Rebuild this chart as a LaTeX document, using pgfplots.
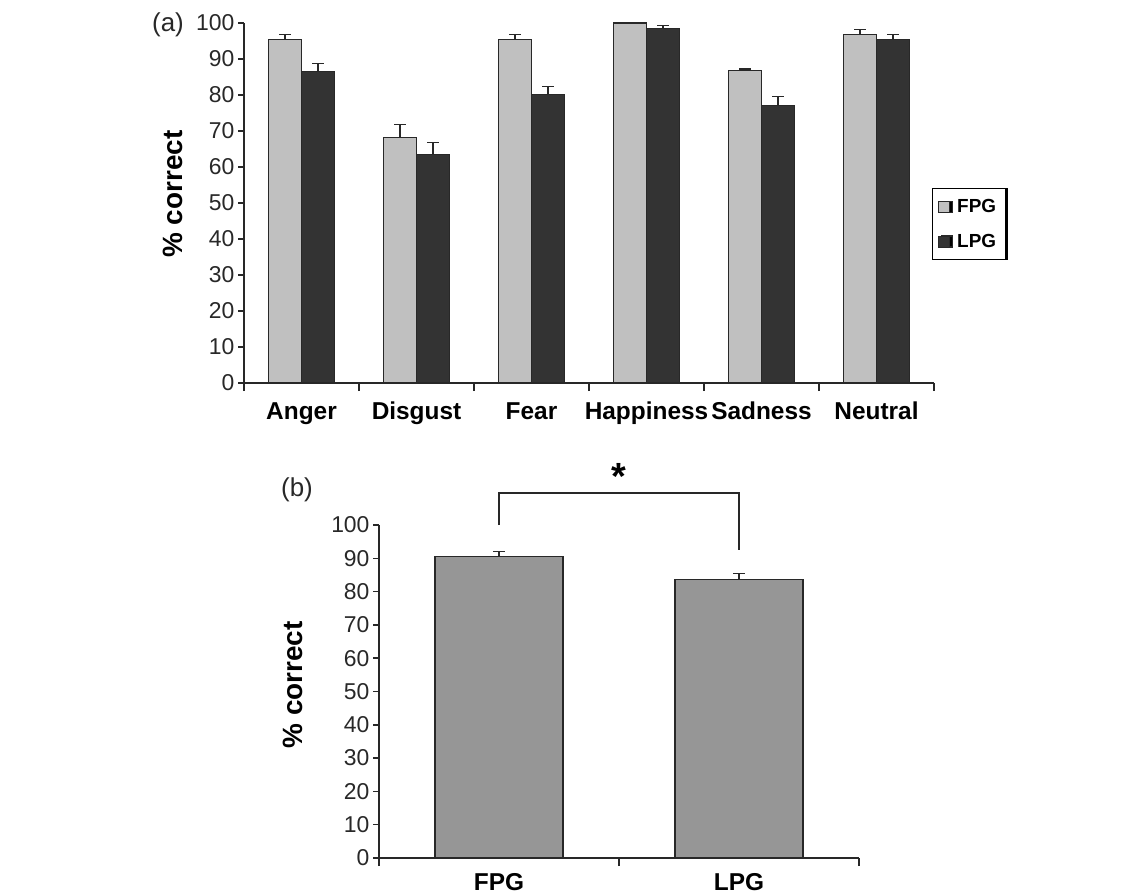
\documentclass[border=0pt]{standalone}
\usepackage{pgfplots}
\pgfplotsset{compat=1.18}
\usepackage{pgfplotstable}
\usepackage{fontspec}
\setmainfont{Liberation Sans}
\usetikzlibrary{shadows}

\definecolor{fpg}{RGB}{192,192,192}
\definecolor{lpg}{RGB}{51,51,51}
\definecolor{single}{RGB}{150,150,150}
\definecolor{ink}{RGB}{40,40,40}

% (a) recognition per emotion, mean and upper error
\pgfplotstableread{
x fpg fpgerr lpg lpgerr
0 95.5 1.2 86.5 2.3
1 68.2 3.5 63.5 3.2
2 95.5 1.2 80.2 2.1
3 100  0.0 98.5 0.9
4 86.7 0.5 77.1 2.5
5 96.9 1.3 95.5 1.2
}\emotions

% (b) overall
\pgfplotstableread{
x val err
0 90.5 1.5
1 83.6 1.8
}\overall

\pgfplotsset{
  panel/.style={
    scale only axis,
    axis x line*=bottom, axis y line*=left,
    ymin=0, ymax=100, ytick={0,10,...,100},
    tick align=outside,
    major tick length=6bp,
    minor tick length=8bp,
    axis line style={ink, line width=1.5bp},
    every tick/.style={ink, line width=1.5bp},
    major x tick style={draw=none},
    y tick label style={font=\fontsize{23}{23}\selectfont, color=ink},
    x tick label style={font=\fontsize{24.5}{24.5}\selectfont\bfseries, color=black,
      text height=18bp, text depth=6bp, yshift=-8.5bp},
    ylabel={\% correct},
    ylabel style={font=\fontsize{28}{28}\selectfont\bfseries},
    /pgf/number format/assume math mode=true,
    ybar=0pt,
    clip=false,
  },
  errs/.style={
    error bars/.cd,
      y dir=plus, y explicit,
      error bar style={ink, line width=1.2bp},
      error mark options={rotate=90, mark size=6bp, line width=1.2bp, ink},
    /pgfplots/.cd,
  },
  sq legend/.style={
    legend image code/.code={\draw[##1, line width=0.8bp] (0bp,-5.5bp) rectangle (11bp,5.5bp);},
  },
}

\begin{document}
\begin{tikzpicture}
\useasboundingbox (0,0) rectangle (1145bp,-895bp);

\begin{axis}[panel,
  at={(244bp,-383bp)}, anchor=south west,
  width=690bp, height=360bp,
  xmin=-0.5, xmax=5.5,
  xtick={0,...,5},
  xticklabels={Anger,Disgust,Fear,Happiness,Sadness,Neutral},
  minor xtick={-0.5,0.5,...,5.5},
  bar width=33bp,
  ylabel style={at={(axis description cs:-0.103,0.525)}, anchor=center},
  every axis plot post/.append style={sq legend},
  legend style={at={(axis description cs:0.997,0.542)}, anchor=north west,
    draw=black, line width=1bp, inner xsep=6bp, inner ysep=5bp, row sep=8bp,
    nodes={inner xsep=3bp, inner ysep=6bp},
    /tikz/every odd column/.append style={column sep=4bp},
    font=\fontsize{19}{19}\selectfont\bfseries,
    drop shadow={shadow xshift=2.5bp, shadow yshift=0bp, opacity=1, fill=black}},
  legend cell align=left,
]
\addplot[fill=fpg, draw=ink, line width=1.2bp, errs]
  table[x=x, y=fpg, y error=fpgerr] {\emotions};
\addplot[fill=lpg, draw=ink, line width=1.2bp, errs]
  table[x=x, y=lpg, y error=lpgerr] {\emotions};
\legend{FPG,LPG}
\end{axis}
\node[font=\fontsize{26}{26}\selectfont, ink] at (168bp,-25bp) {(a)};

\begin{axis}[panel,
  at={(379bp,-858bp)}, anchor=south west,
  width=480bp, height=333bp,
  xmin=-0.5, xmax=1.5,
  xtick={0,1},
  xticklabels={FPG,LPG},
  x tick label style={text depth=0bp, inner ysep=1bp, yshift=1bp},
  minor xtick={-0.5,0.5,1.5},
  bar width=128bp,
  ylabel style={at={(axis description cs:-0.179,0.52)}, anchor=center},
]
\addplot[fill=single, draw=ink, line width=1.2bp, errs]
  table[x=x, y=val, y error=err] {\overall};
\draw[ink, line width=1.5bp] (axis cs:0,100) -- (axis cs:0,109.6)
  -- (axis cs:1,109.6) -- (axis cs:1,92.5);
\node[font=\fontsize{38}{38}\selectfont\bfseries] at (axis cs:0.5,114.6) {*};
\end{axis}
\node[font=\fontsize{26}{26}\selectfont, ink] at (297bp,-490bp) {(b)};
\end{tikzpicture}
\end{document}
